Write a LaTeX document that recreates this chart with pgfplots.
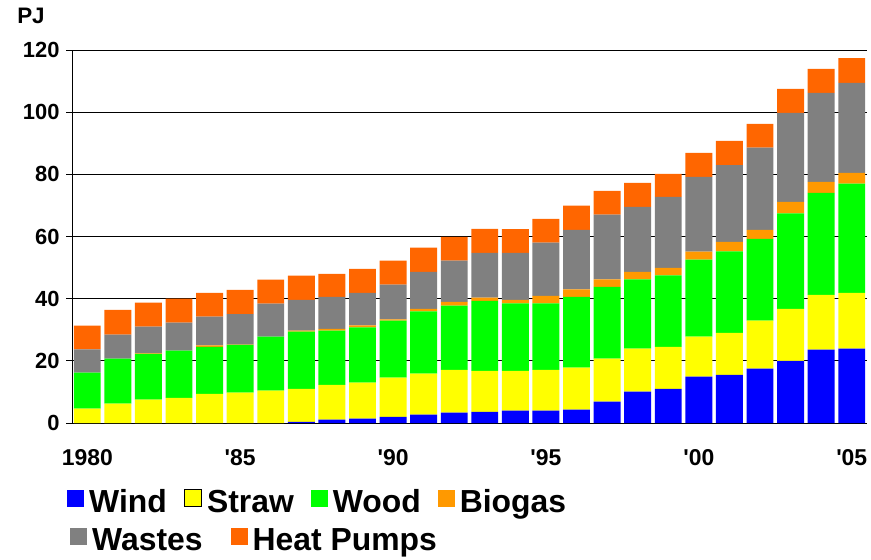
\documentclass[border=0pt]{standalone}
\usepackage{pgfplots}
\pgfplotsset{compat=1.18}
\usepackage{pgfplotstable}
\usepackage{fontspec}
\setmainfont{Liberation Sans}

\definecolor{cwind}{RGB}{0,0,255}
\definecolor{cstraw}{RGB}{255,255,0}
\definecolor{cwood}{RGB}{0,255,0}
\definecolor{cbiogas}{RGB}{255,153,0}
\definecolor{cwastes}{RGB}{128,128,128}
\definecolor{cheat}{RGB}{255,102,0}

% renewable energy by source, PJ
\pgfplotstableread{
year wind straw wood biogas wastes heat
1980 0    4.6   11.6  0    7.5   7.6
1981 0    6.2   14.5  0    7.7   8.0
1982 0    7.5   14.7  0.2  8.6   7.7
1983 0    8.1   15.2  0    9.0   7.7
1984 0    9.4   15.1  0.5  9.2   7.7
1985 0    9.75  15.4  0.1  9.8   7.8
1986 0    10.4  17.4  0    10.6  7.7
1987 0.4  10.6  18.4  0.3  9.9   7.8
1988 1.1  11.2  17.4  0.6  10.3  7.4
1989 1.4  11.6  17.75 0.65 10.5  7.7
1990 2.0  12.6  18.3  0.4  11.2  7.7
1991 2.7  13.2  20.0  0.85 11.9  7.8
1992 3.3  13.8  20.7  1.2  13.2  7.7
1993 3.6  13.2  22.5  1.0  14.45 7.7
1994 4.0  12.8  21.7  1.1  15.1  7.7
1995 4.0  13.1  21.4  2.4  17.1  7.7
1996 4.3  13.5  22.8  2.4  19.1  7.8
1997 6.9  13.8  23.1  2.4  20.8  7.7
1998 10.1 13.8  22.3  2.4  20.9  7.75
1999 11.0 13.5  23.0  2.4  22.85 7.4
2000 14.9 12.85 24.85 2.5  24.1  7.7
2001 15.5 13.5  26.2  3.1  24.7  7.75
2002 17.5 15.4  26.35 2.85 26.5  7.6
2003 20.0 16.75 30.65 3.7  28.65 7.75
2004 23.6 17.65 32.75 3.6  28.6  7.7
2005 23.9 18.0  35.1  3.5  28.9  8.0
}\datatable

\pgfplotsset{
  boxlegend/.style={
    legend image code/.code={\fill[##1] (0bp,-5bp) rectangle (17bp,12bp);},
  },
  legstyle/.style={
    legend style={draw=none, fill=none, inner sep=0pt,
      font=\bfseries\fontsize{32}{32}\selectfont,
      nodes={inner xsep=5bp, inner ysep=0bp},
      /tikz/every even column/.append style={column sep=12bp}},
  },
}

\begin{document}
\begin{tikzpicture}
\path[use as bounding box] (-72bp,-137bp) rectangle (799bp,423bp);
\begin{axis}[
    scale only axis,
    width=795bp, height=373bp,
    ybar stacked,
    bar width=0.88,
    xmin=1979.5, xmax=2005.5,
    ymin=0, ymax=120,
    ytick={0,20,...,120},
    xtick={1980,1985,1990,1995,2000,2005},
    xticklabels={1980,\textquotesingle85,\textquotesingle90,\textquotesingle95,\textquotesingle00,\textquotesingle05},
    minor xtick={1979.5,1980.5,...,2005.5},
    axis x line*=bottom, axis y line*=left,
    axis line style={black, line width=0.8bp, -},
    tick align=outside,
    major tick length=6bp, minor tick length=6bp,
    xtick style={draw=none},
    minor x tick style={black, line width=0.8bp},
    ytick style={black, line width=0.8bp},
    ymajorgrids,
    major grid style={black, line width=0.8bp},
    yticklabel style={font=\bfseries\fontsize{22}{22}\selectfont, xshift=-3bp},
    xticklabel style={font=\bfseries\fontsize{23}{23}\selectfont, yshift=-17bp},
    /pgf/number format/assume math mode=true,
    ylabel={PJ},
    every axis y label/.style={at={(axis description cs:0,1)}, anchor=center,
      xshift=-41bp, yshift=34bp, font=\bfseries\fontsize{22.5}{22.5}\selectfont},
    boxlegend, legstyle,
    legend columns=4,
    legend style={at={(axis description cs:0,0)}, anchor=north west,
      xshift=-5bp, yshift=-66bp},
]
\addplot[fill=cwind, draw=none] table[x=year, y=wind] {\datatable};
\addplot[fill=cstraw, draw=none,
  legend image code/.code={\filldraw[fill=cstraw, draw=black, line width=1.2bp] (0bp,-5bp) rectangle (17bp,12bp);}]
  table[x=year, y=straw] {\datatable};
\addplot[fill=cwood, draw=none] table[x=year, y=wood] {\datatable};
\addplot[fill=cbiogas, draw=none] table[x=year, y=biogas] {\datatable};
\addplot[fill=cwastes, draw=none] table[x=year, y=wastes] {\datatable};
\addplot[fill=cheat, draw=none] table[x=year, y=heat] {\datatable};
\legend{Wind,Straw,Wood,Biogas}
\end{axis}
\begin{axis}[
    scale only axis,
    width=795bp, height=373bp,
    hide axis,
    xmin=0, xmax=1, ymin=0, ymax=1,
    boxlegend, legstyle,
    legend columns=2,
    legend style={at={(axis description cs:0,0)}, anchor=north west,
      xshift=-2bp, yshift=-105bp,
      /tikz/every even column/.append style={column sep=23bp}},
]
\addlegendimage{fill=cwastes, draw=none}
\addlegendentry{Wastes}
\addlegendimage{fill=cheat, draw=none}
\addlegendentry{Heat Pumps}
\end{axis}
\end{tikzpicture}
\end{document}
